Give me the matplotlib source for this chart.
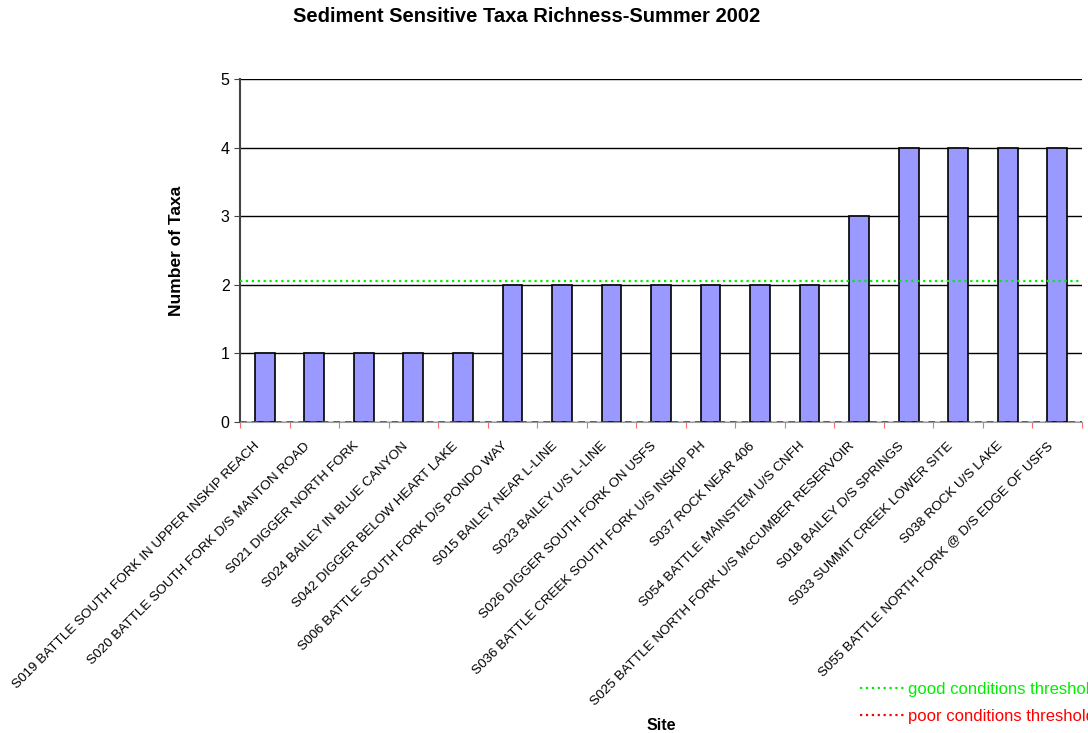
import numpy as np
import matplotlib
matplotlib.use("Agg")
import matplotlib.pyplot as plt
import matplotlib.transforms as mtransforms
from matplotlib.lines import Line2D

plt.rcParams['font.family'] = ['Liberation Sans', 'DejaVu Sans']

sites = [
    "S019 BATTLE SOUTH FORK IN UPPER INSKIP REACH",
    "S020 BATTLE SOUTH FORK D/S MANTON ROAD",
    "S021 DIGGER NORTH FORK",
    "S024 BAILEY IN BLUE CANYON",
    "S042 DIGGER BELOW HEART LAKE",
    "S006 BATTLE SOUTH FORK D/S PONDO WAY",
    "S015 BAILEY NEAR L-LINE",
    "S023 BAILEY U/S L-LINE",
    "S026 DIGGER SOUTH FORK ON USFS",
    "S036 BATTLE CREEK SOUTH FORK U/S INSKIP PH",
    "S037 ROCK NEAR 406",
    "S054 BATTLE MAINSTEM U/S CNFH",
    "S025 BATTLE NORTH FORK U/S McCUMBER RESERVOIR",
    "S018 BAILEY D/S SPRINGS",
    "S033 SUMMIT CREEK LOWER SITE",
    "S038 ROCK U/S LAKE",
    "S055 BATTLE NORTH FORK @ D/S EDGE OF USFS",
]
taxa = [1, 1, 1, 1, 1, 2, 2, 2, 2, 2, 2, 2, 3, 4, 4, 4, 4]
good_threshold = 2.05
poor_threshold = 0

fig = plt.figure(figsize=(10.88, 7.33), dpi=100)
ax = fig.add_axes([240/1088, 1 - 422/733, 842/1088, (422 - 79)/733])

x = np.arange(len(sites))
ax.bar(x, taxa, width=0.4, color='#9999ff', edgecolor='black', linewidth=1.2, zorder=3)

ax.axhline(good_threshold, color='#00ee00', linestyle=':', linewidth=1.6, zorder=4)
ax.axhline(poor_threshold, color='red', linestyle=(0, (4, 3)), linewidth=1.2, zorder=4)

ax.set_xlim(-0.5, len(sites) - 0.5)
ax.set_ylim(0, 5)
ax.set_yticks(range(6))
ax.yaxis.grid(True, color='black', linewidth=1.0, zorder=0)
ax.set_axisbelow(True)

# category boundary ticks + labels at centers
ax.set_xticks(np.arange(len(sites) + 1) - 0.5)
ax.set_xticklabels([])
ax.tick_params(axis='x', direction='out', length=4, color='#ff6666')
ax.set_xticks(x, minor=True)
ax.set_xticklabels(sites, minor=True, rotation=45, ha='right', rotation_mode='anchor',
                   fontsize=9.7)
ax.tick_params(axis='x', which='minor', length=0, pad=13)
offset = mtransforms.ScaledTranslation(-11/100, 0, fig.dpi_scale_trans)
for lab in ax.xaxis.get_minorticklabels():
    lab.set_transform(lab.get_transform() + offset)
ax.tick_params(axis='y', direction='out', length=4, labelsize=11.5, color='#444444')

for s in ['top', 'right']:
    ax.spines[s].set_visible(False)
ax.spines['left'].set_color('#444444')
ax.spines['left'].set_linewidth(1.5)
ax.spines['bottom'].set_color('#999999')

ax.set_ylabel('Number of Taxa', fontsize=12.5, fontweight='bold', labelpad=26)
fig.text(661/1088, 1 - 725/733, 'Site', fontsize=11.5, fontweight='bold', ha='center', va='center')
fig.text(527/1088, 1 - 17/733, 'Sediment Sensitive Taxa Richness-Summer 2002',
         fontsize=14.5, fontweight='bold', ha='center', va='center')

handles = [Line2D([], [], color='#00ee00', linestyle=':', linewidth=1.6),
           Line2D([], [], color='red', linestyle=':', linewidth=1.6)]
leg = fig.legend(handles, ['good conditions threshold', 'poor conditions threshold'],
                 loc='upper left', bbox_to_anchor=(853/1088, 1 - 675/733), frameon=False,
                 fontsize=12.0, handlelength=2.7, handletextpad=0.2, labelspacing=0.75,
                 borderaxespad=0)
for t, c in zip(leg.get_texts(), ['#00ee00', 'red']):
    t.set_color(c)

fig.savefig('out.png', dpi=100)
